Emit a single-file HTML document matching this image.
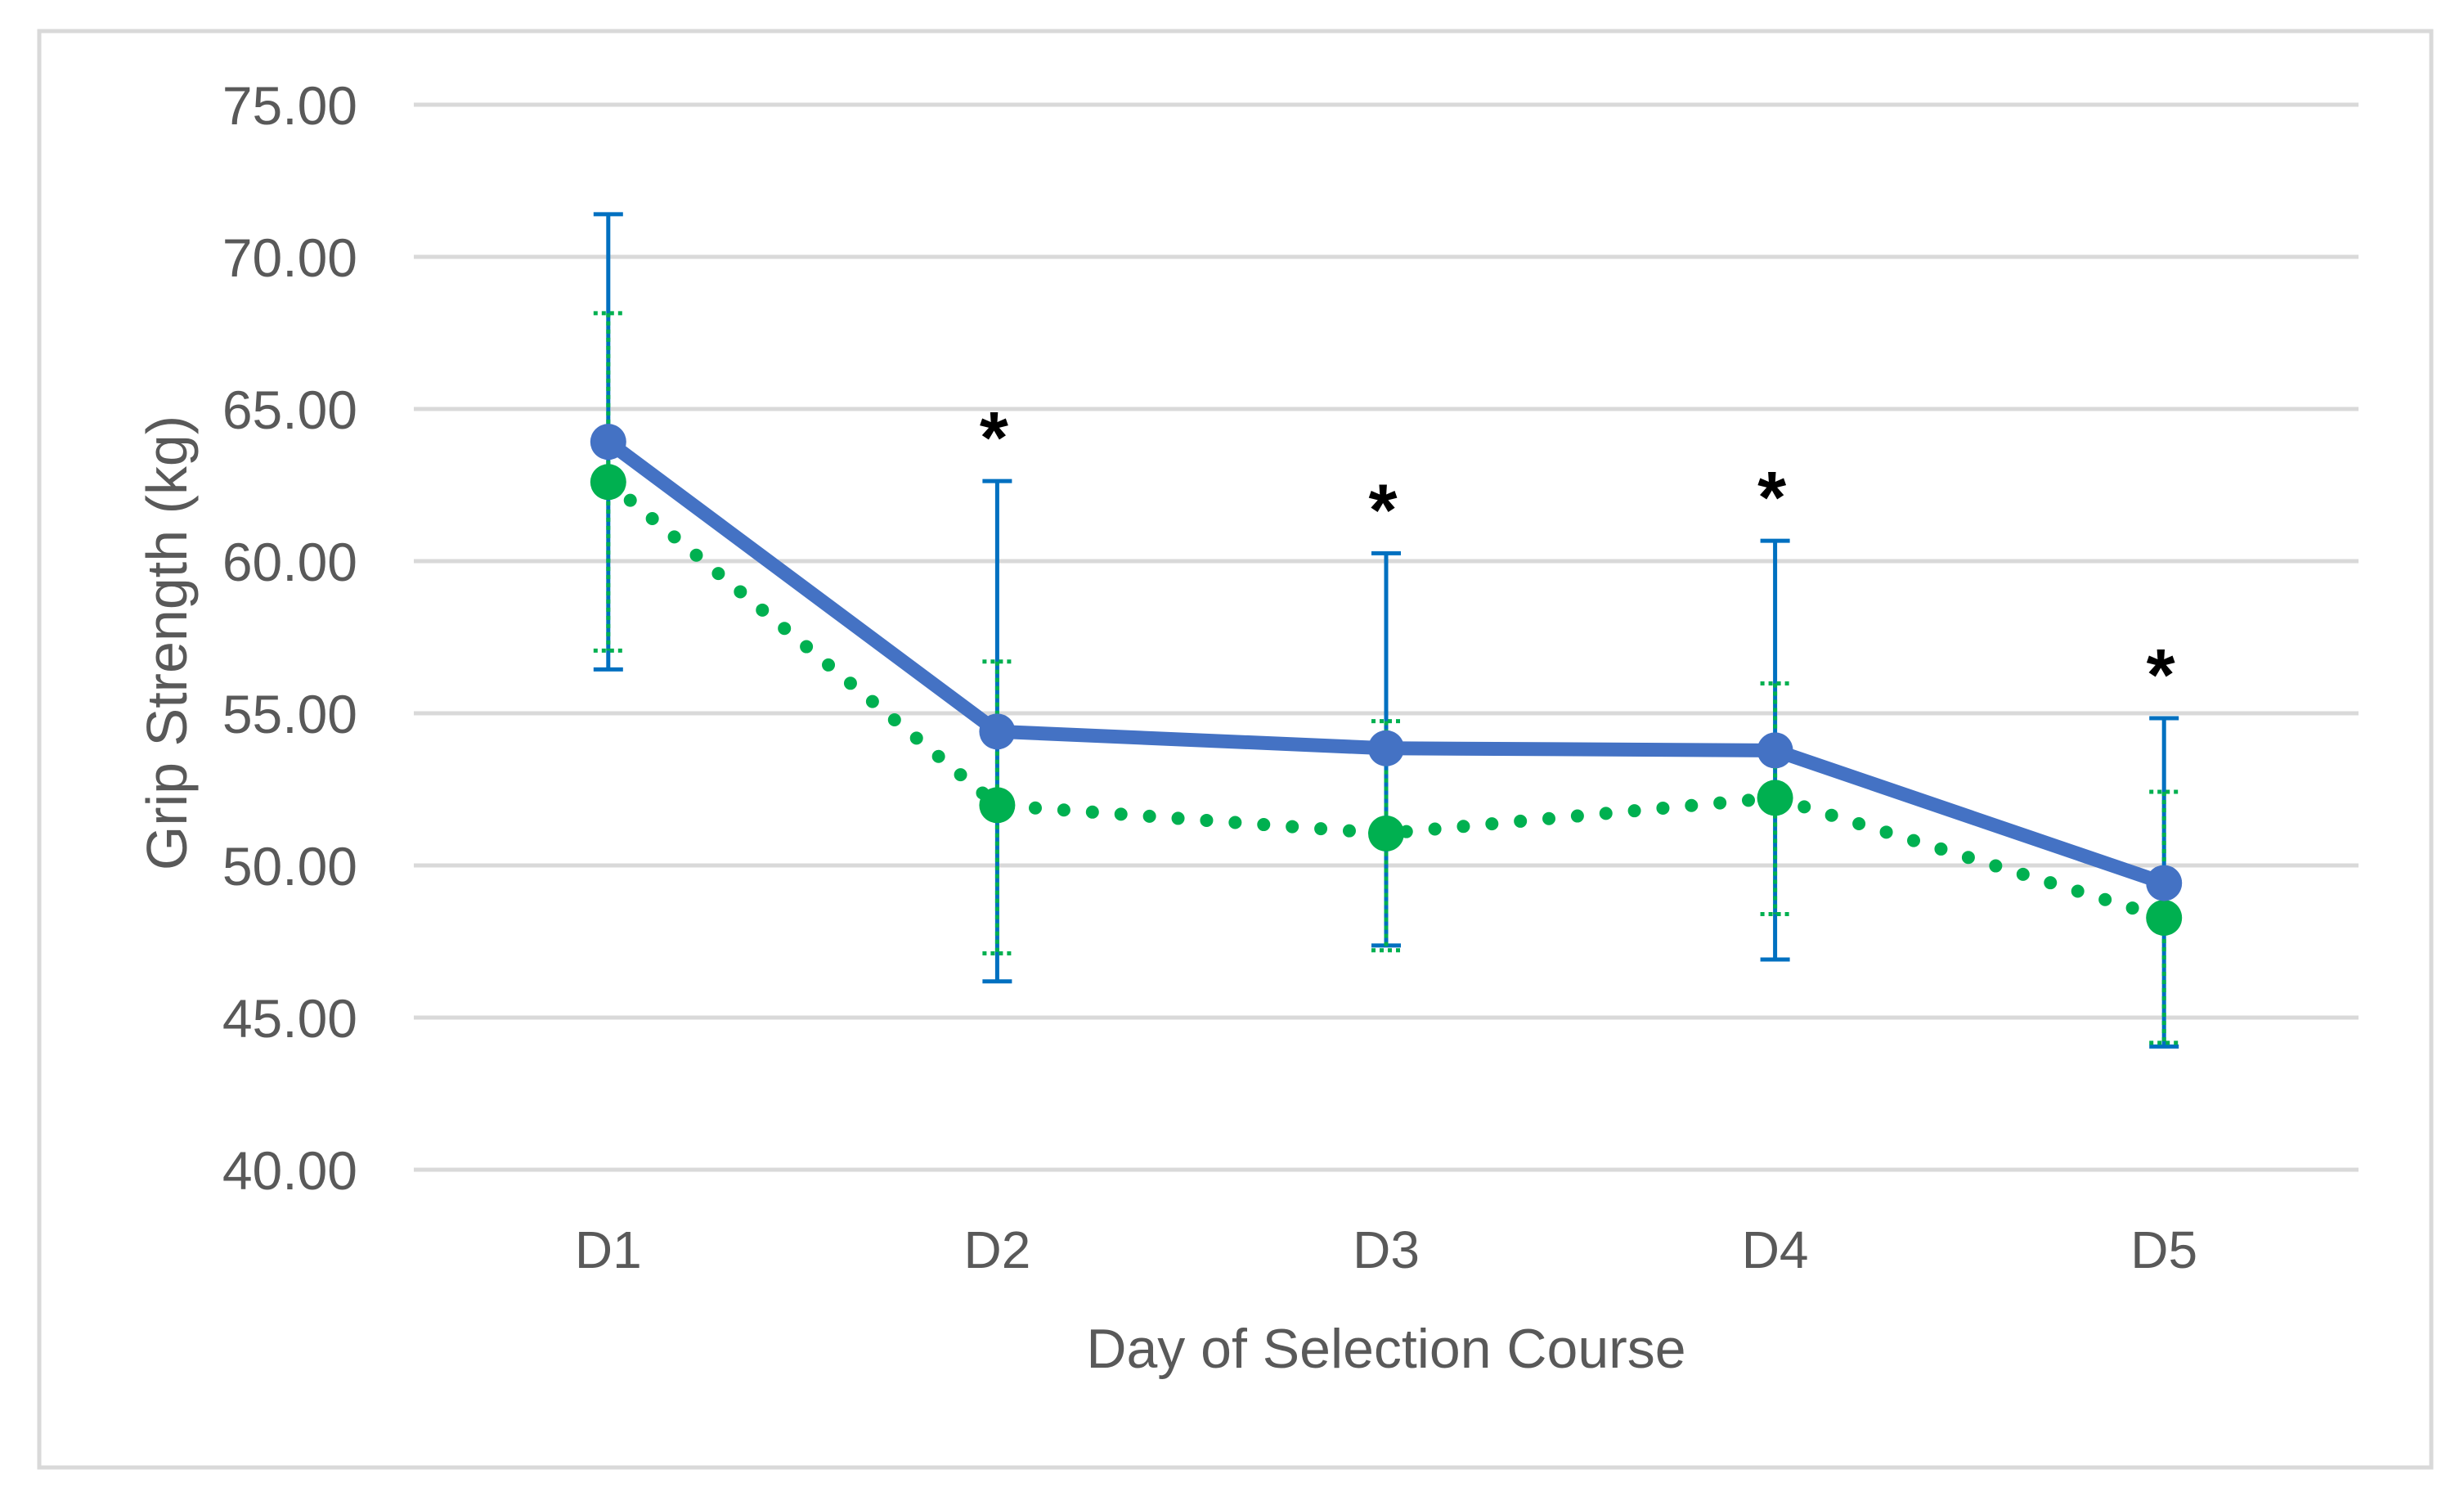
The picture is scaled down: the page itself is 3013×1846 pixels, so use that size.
<!DOCTYPE html>
<html><head><meta charset="utf-8"><style>
html,body{margin:0;padding:0;background:#fff}
svg{display:block;font-family:"Liberation Sans",sans-serif}
</style></head><body>
<svg id="chart" width="3013" height="1846" viewBox="0 0 3013 1846">
<rect x="48" y="38" width="2925" height="1756" fill="#fff" stroke="#d9d9d9" stroke-width="5"/>
<g id="grid"></g>
<g id="yt"></g>
<g id="xt"></g>
<g id="err"></g>
<g id="lines"></g>
<g id="marks"></g>
<g id="stars"></g>
<text x="0" y="0" transform="translate(228,786) rotate(-90)" text-anchor="middle" font-size="70" fill="#595959">Grip Strength (kg)</text>
<text x="1695" y="1672" text-anchor="middle" font-size="68" fill="#595959">Day of Selection Course</text>
</svg>
<script>
const categories=["D1","D2","D3","D4","D5"];
const blueValues=[63.92,54.4,53.85,53.78,49.42];
const blueUpper=[71.4,62.63,60.26,60.67,54.84];
const blueLower=[56.44,46.19,47.37,46.91,44.05];
const greenValues=[62.6,51.98,51.05,52.22,48.28];
const greenUpper=[68.15,56.7,54.74,55.98,52.42];
const greenLower=[57.06,47.11,47.21,48.4,44.17];
const significant=[false,true,true,true,true];
const yTicks=[40,45,50,55,60,65,70,75];
const NS="http://www.w3.org/2000/svg";
const X0=506,X1=2884,Y0=1430,Y1=128,YMIN=40,YMAX=75;
function xs(i){return X0+(X1-X0)/categories.length*(i+0.5);}
function ys(v){return Y0-(v-YMIN)/(YMAX-YMIN)*(Y0-Y1);}
function mk(tag,attrs,parent){const e=document.createElementNS(NS,tag);for(const k in attrs)e.setAttribute(k,attrs[k]);document.getElementById(parent).appendChild(e);return e;}
yTicks.forEach(t=>{
 const l=mk('line',{x1:X0,x2:X1,y1:ys(t),y2:ys(t),stroke:'#d9d9d9','stroke-width':5},'grid');
 
 
 const tx=mk('text',{x:437,y:ys(t)+24,'text-anchor':'end','font-size':66,fill:'#595959'},'yt');
 tx.textContent=t.toFixed(2);
 
 
});
categories.forEach((c,i)=>{
 const tx=mk('text',{x:xs(i),y:1550,'text-anchor':'middle','font-size':64,fill:'#595959'},'xt');
 tx.textContent=c;
 
 
 const b=mk('path',{d:`M${xs(i)},${ys(blueUpper[i])}V${ys(blueLower[i])}M${xs(i)-18},${ys(blueUpper[i])}h36M${xs(i)-18},${ys(blueLower[i])}h36`,stroke:'#0070C0','stroke-width':5,fill:'none'},'err');
 
 
 const g=mk('path',{d:`M${xs(i)},${ys(greenUpper[i])}V${ys(greenLower[i])}M${xs(i)-18},${ys(greenUpper[i])}h36M${xs(i)-18},${ys(greenLower[i])}h36`,stroke:'#00B050','stroke-width':5,fill:'none','stroke-dasharray':'5 5'},'err');
 
 
 if(significant[i]){
  const s=mk('text',{x:xs(i)-4,y:ys(blueUpper[i])-22,'text-anchor':'middle','font-size':90,'font-weight':'bold',fill:'#000'},'stars');
  s.textContent='*';
  
  
 }
});
const gp=mk('polyline',{points:greenValues.map((v,i)=>xs(i)+','+ys(v)).join(' '),stroke:'#00B050','stroke-width':16,fill:'none','stroke-linecap':'round','stroke-dasharray':'0 35'},'lines');


const bp=mk('polyline',{points:blueValues.map((v,i)=>xs(i)+','+ys(v)).join(' '),stroke:'#4472C4','stroke-width':17,fill:'none','stroke-linejoin':'round'},'lines');


greenValues.forEach((v,i)=>{
 const c=mk('circle',{cx:xs(i),cy:ys(v),r:22,fill:'#00B050'},'marks');
 
 
});
blueValues.forEach((v,i)=>{
 const c=mk('circle',{cx:xs(i),cy:ys(v),r:22,fill:'#4472C4'},'marks');
 
 
});
</script>
</body></html>
